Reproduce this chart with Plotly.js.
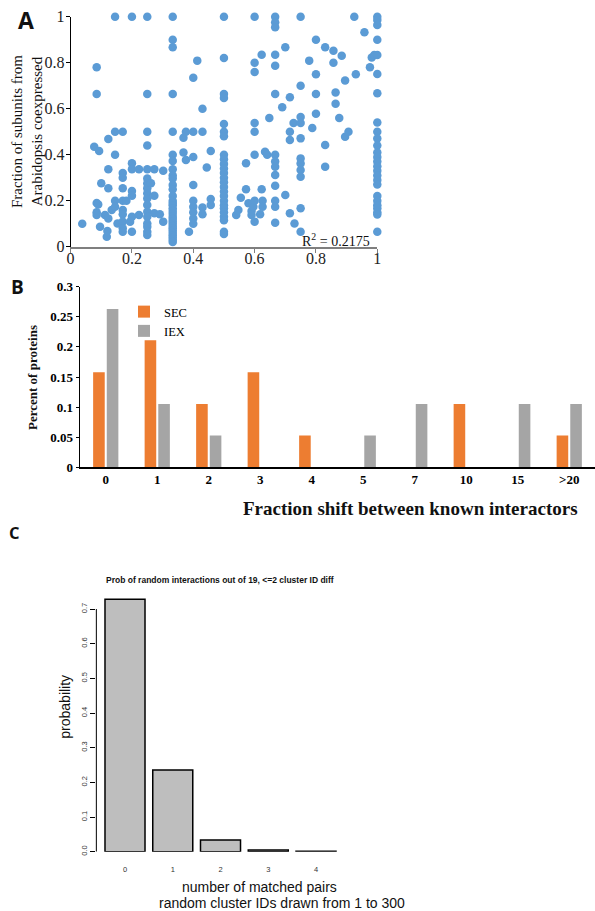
<!DOCTYPE html>
<html><head><meta charset="utf-8">
<script src="https://cdn.plot.ly/plotly-3.0.1.min.js"></script>
<style>html,body{margin:0;padding:0;background:#fff}#chart{width:595px;height:911px}</style>
</head><body><div id="chart"></div>
<script>
// Panel A: scatter of fractions
const scatterX = [
0.038,0.077,0.085,0.085,0.085,0.085,0.085,0.09,0.093,0.096,0.1,0.112,0.118,0.12,
0.123,0.123,0.123,0.123,0.134,
0.145,0.145,0.145,0.145,0.145,0.153,
0.17,0.17,0.17,0.17,0.17,0.17,0.17,0.17,0.17,0.17,0.182,0.194,
0.2,0.2,0.2,0.2,0.2,0.2,0.2,0.223,0.223,
0.25,0.25,0.25,0.25,0.25,0.25,0.25,0.25,0.25,0.25,0.25,0.25,0.25,0.25,0.25,0.25,0.25,
0.262,0.273,0.273,0.273,0.291,0.302,0.302,
0.333,0.333,0.333,0.333,0.333,0.333,0.333,0.333,0.333,0.333,0.333,0.333,0.333,0.333,0.333,0.333,
0.333,0.333,0.333,0.333,0.333,0.333,0.333,0.333,0.333,0.333,0.333,0.333,0.333,0.333,0.333,
0.368,0.368,0.376,0.376,0.386,
0.4,0.4,0.4,0.4,0.4,0.4,0.4,0.4,0.4,0.413,0.43,0.43,0.43,0.43,0.444,0.457,0.457,0.457,
0.5,0.5,0.5,0.5,0.5,0.5,0.5,0.5,0.5,0.5,0.5,0.5,0.5,0.5,0.5,0.5,0.5,0.5,0.5,0.5,0.5,0.5,0.5,0.5,0.5,
0.54,0.547,0.555,0.572,0.572,0.58,0.59,0.59,0.596,
0.6,0.6,0.6,0.6,0.6,0.6,0.6,0.6,
0.618,0.623,0.623,0.626,0.626,0.634,0.641,0.648,
0.667,0.667,0.667,0.667,0.667,0.667,0.667,0.667,0.667,0.667,0.667,0.667,0.667,0.667,
0.69,0.7,0.7,0.715,0.715,0.715,0.715,0.727,0.73,
0.75,0.75,0.75,0.75,0.75,0.75,0.75,0.75,0.75,0.75,0.75,
0.778,0.788,0.8,0.8,0.8,0.8,0.83,0.83,0.83,0.857,0.857,0.864,0.864,0.876,0.884,0.895,0.895,0.906,
0.925,0.93,0.958,0.976,0.982,0.99,
1,1,1,1,1,1,1,1,1,1,1,1,1,1,1,1,1,1,1,1,1,1,1,1,1,1
];
const scatterY = [
0.10,0.435,0.78,0.664,0.19,0.15,0.138,0.184,0.416,0.087,0.276,0.138,0.043,0.068,
0.468,0.337,0.254,0.123,0.16,
1,0.5,0.4,0.2,0.174,0.101,
0.5,0.32,0.3,0.254,0.2,0.16,0.141,0.109,0.08,0.065,0.2,0.109,
1,0.363,0.337,0.242,0.222,0.13,0.065,0.337,0.138,
1,0.664,0.5,0.44,0.337,0.297,0.276,0.254,0.232,0.21,0.181,0.152,0.13,0.101,0.087,0.065,0.051,
0.276,0.337,0.222,0.145,0.141,0.33,0.109,
1,0.9,0.867,0.664,0.5,0.4,0.373,0.337,0.31,0.297,0.268,0.25,0.22,0.2,0.19,0.18,
0.167,0.155,0.143,0.13,0.12,0.11,0.1,0.09,0.08,0.07,0.06,0.05,0.04,0.03,0.02,
0.474,0.41,0.5,0.377,0.065,
0.735,0.5,0.39,0.268,0.2,0.174,0.15,0.123,0.1,0.809,0.6,0.5,0.17,0.141,0.344,0.416,0.207,0.181,
1,0.82,0.664,0.647,0.533,0.5,0.48,0.4,0.38,0.36,0.34,0.32,0.3,0.28,0.26,0.24,0.22,0.2,0.18,0.167,0.15,0.13,0.115,0.065,0.055,
0.138,0.16,0.213,0.363,0.25,0.189,0.155,0.138,0.174,
1,0.8,0.76,0.538,0.5,0.4,0.2,0.109,
0.141,0.835,0.25,0.2,0.174,0.413,0.4,0.56,
1,0.976,0.954,0.835,0.787,0.664,0.4,0.37,0.348,0.312,0.265,0.2,0.174,0.104,
0.606,0.867,0.225,0.65,0.5,0.464,0.145,0.538,0.101,
1,0.70,0.564,0.538,0.471,0.384,0.362,0.333,0.304,0.167,0.065,
0.809,0.516,0.9,0.75,0.664,0.578,0.867,0.442,0.348,0.852,0.8,0.67,0.622,0.56,0.83,0.723,0.478,0.5,
1,0.75,0.932,0.78,0.823,0.833,
1,0.986,0.964,0.9,0.833,0.751,0.667,0.54,0.5,0.47,0.44,0.41,0.39,0.37,0.35,0.33,0.31,0.29,0.27,0.22,0.2,0.18,0.167,0.15,0.14,0.065
];
const aTicks = [0, 0.2, 0.4, 0.6, 0.8, 1];

// Panel B: grouped bars
const shiftCategories = ['0','1','2','3','4','5','7','10','15','>20'];
const secValues = [0.158,0.211,0.105,0.158,0.053,0,0,0.105,0,0.053];
const iexValues = [0.263,0.105,0.053,0,0,0.053,0.105,0,0.105,0.105];
const bTickVals = [0,0.05,0.1,0.15,0.2,0.25,0.3];
const bTickText = ['0','0.05','0.1','0.15','0.2','0.25','0.3'];

// Panel C: probability bars
const matchedPairs = [0,1,2,3,4];
const probValues = [0.728,0.236,0.034,0.005,0.001];
const cTickVals = [0,0.1,0.2,0.3,0.4,0.5,0.6,0.7];
const cTickText = ['0.0','0.1','0.2','0.3','0.4','0.5','0.6','0.7'];

const SERIF = 'Liberation Serif, Times New Roman, serif';
const SANS = 'Liberation Sans, Arial, sans-serif';
const LETTER = 'Open Sans, Noto Sans, sans-serif';

const traces = [
  {type:'scatter', mode:'markers', x:scatterX, y:scatterY, xaxis:'x', yaxis:'y',
   marker:{size:8.5, color:'#5b9bd5'}, cliponaxis:false, showlegend:false, hoverinfo:'x+y'},
  {type:'bar', name:'SEC', x:shiftCategories, y:secValues, xaxis:'x2', yaxis:'y2',
   marker:{color:'#ed7d31'}},
  {type:'bar', name:'IEX', x:shiftCategories, y:iexValues, xaxis:'x2', yaxis:'y2',
   marker:{color:'#a5a5a5'}},
  {type:'bar', x:matchedPairs, y:probValues, xaxis:'x3', yaxis:'y3', width:0.838,
   marker:{color:'#bebebe', line:{color:'#000', width:1.5}}, showlegend:false}
];

function ann(text, px, py, size, family, extra) {
  return Object.assign({text:text, x:px/595, y:1-py/911, xref:'paper', yref:'paper',
    xanchor:'center', yanchor:'middle', showarrow:false,
    font:{family:family, size:size, color:'#111'}}, extra || {});
}

const layout = {
  width:595, height:911, margin:{l:0,r:0,t:0,b:0},
  paper_bgcolor:'#fff', plot_bgcolor:'rgba(0,0,0,0)',
  barmode:'group', bargap:0.47, bargroupgap:0.15,
  showlegend:true,
  legend:{x:124/595, y:1-297/911, xanchor:'left', yanchor:'top', bgcolor:'rgba(0,0,0,0)',
    font:{family:SERIF, size:12.5, color:'#000'}, tracegroupgap:0, itemwidth:30},
  xaxis:{domain:[70.6/595, 377.3/595], range:[0,1], anchor:'y', tickvals:aTicks,
    showline:true, linecolor:'#7f7f7f', linewidth:2, ticks:'outside', ticklen:4, tickcolor:'#7f7f7f',
    ticklabelstandoff:-8,
    showgrid:false, zeroline:false, tickfont:{family:SERIF, size:16, color:'#222'}},
  yaxis:{domain:[1-246.7/911, 1-16.7/911], range:[0,1], anchor:'x', tickvals:aTicks,
    showline:true, linecolor:'#000', linewidth:1, ticks:'outside', ticklen:4, tickcolor:'#000',
    ticklabelstandoff:-2,
    showgrid:false, zeroline:false, tickfont:{family:SERIF, size:16, color:'#222'}},
  xaxis2:{domain:[80/595, 1], type:'category', anchor:'y2', showline:true, linecolor:'#000', linewidth:1.5,
    ticks:'', showgrid:false, zeroline:false,
    tickfont:{family:SERIF, size:13, color:'#000', weight:'bold'}},
  yaxis2:{domain:[1-467.3/911, 1-286.7/911], range:[0,0.3], anchor:'x2', tickvals:bTickVals, ticktext:bTickText,
    showline:true, linecolor:'#000', linewidth:1.5, ticks:'outside', ticklen:3, tickcolor:'#000',
    showgrid:false, zeroline:false, tickfont:{family:SERIF, size:13, color:'#000', weight:'bold'}},
  xaxis3:{domain:[96.35/595, 339.9/595], range:[-0.6,4.5], anchor:'y3', tickvals:matchedPairs,
    showline:false, ticks:'', showgrid:false, zeroline:false, ticklabelstandoff:12,
    tickfont:{family:SANS, size:7.5, color:'#333'}},
  yaxis3:{domain:[1-851.7/911, 1-591.7/911], range:[0,0.75], anchor:'x3', tickvals:cTickVals, ticktext:cTickText,
    tickangle:-90, showline:false, ticks:'outside', ticklen:5, tickcolor:'#000', tickwidth:1,
    showgrid:false, zeroline:false, tickfont:{family:SANS, size:7.5, color:'#333'}},
  shapes:[
    {type:'line', xref:'paper', yref:'y3', x0:96.35/595, x1:96.35/595, y0:0, y1:0.7,
     line:{color:'#000', width:1}}
  ],
  annotations:[
    ann('<b>A</b>', 25.5, 20, 23, LETTER),
    ann('<b>B</b>', 17.5, 287, 19, LETTER),
    ann('<b>C</b>', 14, 532, 16.5, LETTER),
    ann('Fraction of subunits from<br>Arabidopsis coexpressed', 27, 132, 15, SERIF, {textangle:-90}),
    ann('R<sup>2</sup> = 0.2175', 372, 240, 14, SERIF, {xanchor:'right'}),
    ann('<b>Percent of proteins</b>', 33, 378, 13, SERIF, {textangle:-90}),
    ann('<b>Fraction shift between known interactors</b>', 410, 508, 19, SERIF),
    ann('<b>Prob of random interactions out of 19, &lt;=2 cluster ID diff</b>', 220, 580, 8.5,
        'Liberation Sans Narrow, Liberation Sans, Arial, sans-serif'),
    ann('probability', 65, 706.7, 14, SANS, {textangle:-90}),
    ann('number of matched pairs', 259.5, 886.7, 14, SANS),
    ann('random cluster IDs drawn from 1 to 300', 282.3, 902.7, 14, SANS)
  ]
};

Plotly.newPlot('chart', traces, layout, {displayModeBar:false, staticPlot:true});
</script>
</body></html>
